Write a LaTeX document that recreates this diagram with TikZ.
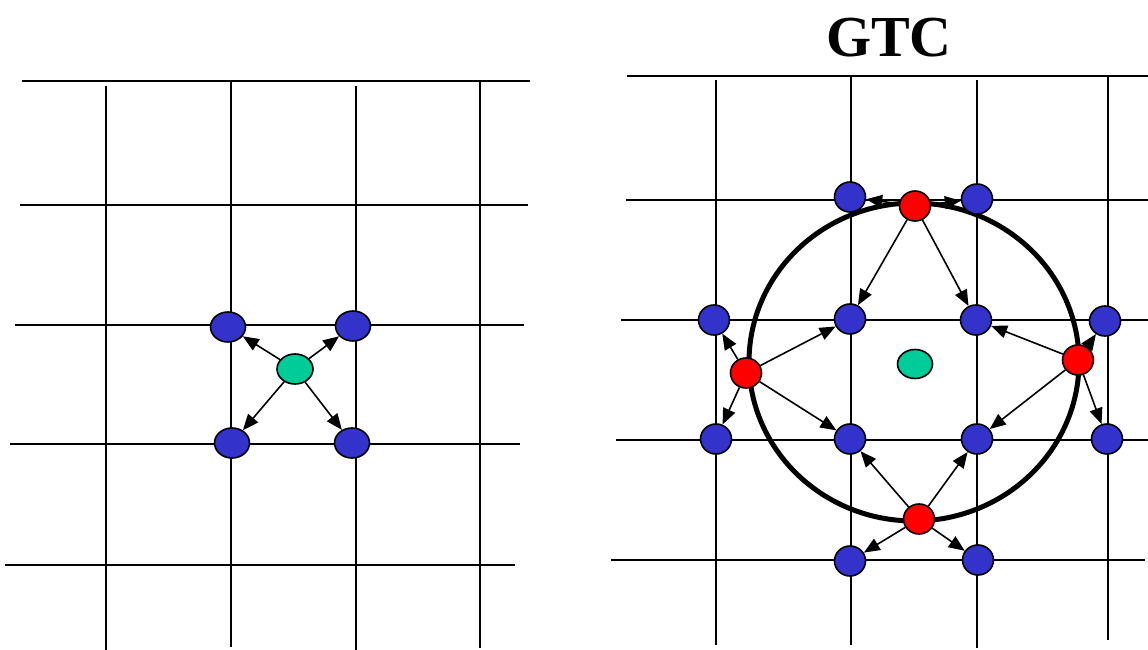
\documentclass[tikz,border=0pt]{standalone}
\usepackage{fontspec}
\setmainfont{Liberation Serif}
\usetikzlibrary{arrows.meta,shapes.geometric}
\definecolor{nblue}{HTML}{3333CC}
\definecolor{ngreen}{HTML}{00CC99}
\definecolor{nred}{HTML}{FF0000}
\tikzset{
  grid/.style={line width=1.8pt, black},
  bnode/.style={ellipse, draw=black, line width=1.6pt, fill=nblue, inner sep=0pt, minimum width=#1, minimum height=30pt},
  bnode/.default=31pt,
  gnode/.style={ellipse, draw=black, line width=1.6pt, fill=ngreen, inner sep=0pt, minimum width=36pt, minimum height=30pt},
  rnode/.style={ellipse, draw=black, line width=1.6pt, fill=nred, inner sep=0pt, minimum width=31pt, minimum height=30pt},
  arr/.style={line width=1.6pt, -{Triangle[length=16pt,width=13pt]}},
}
\begin{document}
\begin{tikzpicture}[x=1pt,y=-1pt]
\useasboundingbox (0,0) rectangle (1148,650);
% ---------- left grid ----------
\draw[grid] (22,81) -- (530,81);
\draw[grid] (20,205) -- (528,205);
\draw[grid] (15,325) -- (524,325);
\draw[grid] (10,444) -- (520,444);
\draw[grid] (5,565) -- (515,565);
\draw[grid] (106,86) -- (106,650);
\draw[grid] (231,80) -- (231,647);
\draw[grid] (356,86) -- (356,650);
\draw[grid] (480,81) -- (480,648);
\node[bnode=35pt] (la) at (228,327) {};
\node[bnode=35pt] (lb) at (353,326) {};
\node[bnode=35pt] (lc) at (232,443) {};
\node[bnode=35pt] (ld) at (352,443) {};
\node[gnode] (lg) at (295,369) {};
\draw[arr] (lg) -- (la);
\draw[arr] (lg) -- (lb);
\draw[arr] (lg) -- (lc);
\draw[arr] (lg) -- (ld);
% ---------- right grid ----------
\node[font=\bfseries\fontsize{58}{60}\selectfont] (title) at (889,38) {GTC};
\draw[grid] (627,76) -- (1148,76);
\draw[grid] (626,200) -- (1148,200);
\draw[grid] (621,320) -- (1148,320);
\draw[grid] (616,440) -- (1148,440);
\draw[grid] (611,560) -- (1145,560);
\draw[grid] (716,80) -- (716,645);
\draw[grid] (851,77) -- (851,645);
\draw[grid] (977,80) -- (977,648);
\draw[grid] (1108,76) -- (1108,640);
\draw[line width=5pt] (914,362) ellipse [x radius=165, y radius=159];
% blue nodes
\node[bnode] (t1) at (850,197) {};
\node[bnode] (t2) at (977,199) {};
\node[bnode] (a1) at (714,320) {};
\node[bnode] (a2) at (850,319) {};
\node[bnode] (a3) at (976,320) {};
\node[bnode] (a4) at (1105,321) {};
\node[bnode] (b1) at (716,439) {};
\node[bnode] (b2) at (850,439) {};
\node[bnode] (b3) at (977,439) {};
\node[bnode] (b4) at (1107,439) {};
\node[bnode] (u1) at (850,561) {};
\node[bnode] (u2) at (978,560) {};
% green
\node[gnode, minimum width=35pt, minimum height=29pt] (rg) at (915,364) {};
% red nodes
\node[rnode] (rt) at (915,206) {};
\node[rnode] (rl) at (746,373) {};
\node[rnode] (rr) at (1078,360) {};
\node[rnode] (rb) at (919,519) {};
% arrows
\draw[arr] (rt) -- (t1);
\draw[arr] (rt) -- (t2);
\draw[arr] (rt) -- (a2);
\draw[arr] (rt) -- (a3);
\draw[arr] (rl) -- (a1);
\draw[arr] (rl) -- (b1);
\draw[arr] (rl) -- (a2);
\draw[arr] (rl) -- (b2);
\draw[arr] (rr) -- (a4);
\draw[arr] (rr) -- (b4);
\draw[arr] (rr) -- (a3);
\draw[arr] (rr) -- (b3);
\draw[arr] (rb) -- (b2);
\draw[arr] (rb) -- (b3);
\draw[arr] (rb) -- (u1);
\draw[arr] (rb) -- (u2);
\end{tikzpicture}
\end{document}
